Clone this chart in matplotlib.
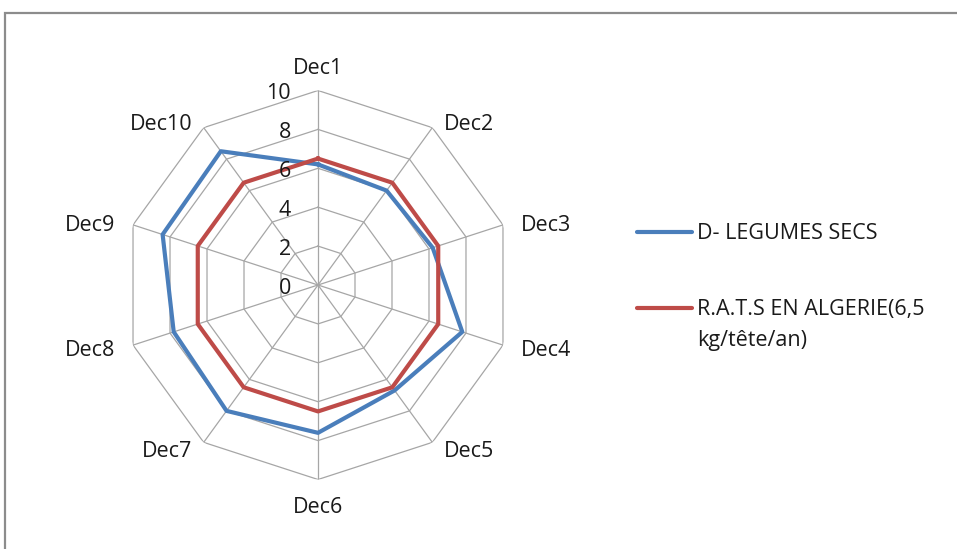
import numpy as np
import matplotlib
matplotlib.use('Agg')
import matplotlib.pyplot as plt
from matplotlib.lines import Line2D
from matplotlib.patches import Rectangle

plt.rcParams['font.family'] = ['Open Sans', 'DejaVu Sans']

# Data
categories = ['Dec1', 'Dec2', 'Dec3', 'Dec4', 'Dec5', 'Dec6', 'Dec7', 'Dec8', 'Dec9', 'Dec10']
legumes_secs = [6.2, 6.0, 6.2, 7.8, 6.7, 7.6, 8.0, 7.8, 8.4, 8.5]
rats_algerie = [6.5, 6.5, 6.5, 6.5, 6.5, 6.5, 6.5, 6.5, 6.5, 6.5]
series_names = ['D- LEGUMES SECS', 'R.A.T.S EN ALGERIE(6,5\nkg/tête/an)']
radial_ticks = [0, 2, 4, 6, 8, 10]

blue = '#4A7EBB'
red = '#BE4B48'
grid_col = '#A6A6A6'
txt_col = '#1A1A1A'
fs = 15.5

W, H = 957, 549
fig = plt.figure(figsize=(W / 100, H / 100), dpi=100)

# outer chart frame (runs off the right and bottom edges)
fig.add_artist(Rectangle((5 / W, -0.1), 1.2, 1.1 - 13 / H, transform=fig.transFigure,
                         fill=False, edgecolor='#8C8C8C', linewidth=1.6))

cx, cy, R = 318, 285, 194.5
ax = fig.add_axes([(cx - R) / W, (H - cy - R) / H, 2 * R / W, 2 * R / H], projection='polar')
ax.set_theta_offset(np.pi / 2)
ax.set_theta_direction(-1)
ax.set_ylim(0, 10)
ax.axis('off')

n = len(categories)
angles = np.arange(n) * 2 * np.pi / n
closed = np.append(angles, angles[0])

# polygon grid and spokes
for lvl in radial_ticks[1:]:
    ax.plot(closed, [lvl] * (n + 1), color=grid_col, lw=0.9, zorder=1)
for a in angles:
    ax.plot([a, a], [0, 10], color=grid_col, lw=0.9, zorder=1)

# series
ax.plot(closed, legumes_secs + legumes_secs[:1], color=blue, lw=3, zorder=3)
ax.plot(closed, rats_algerie + rats_algerie[:1], color=red, lw=3, zorder=3)

# radial tick labels
for v in radial_ticks:
    ax.annotate(str(v), xy=(0, v), xytext=(-27, -3), textcoords='offset pixels',
                ha='right', va='center', fontsize=fs, color=txt_col)

# category labels
for a, c in zip(angles, categories):
    s, co = np.sin(a), np.cos(a)
    if abs(s) < 0.1:
        off = (0, 25 * co - 3)
        ha = 'center'
    else:
        off = (19 * s, 7 * co - 3)
        ha = 'left' if s > 0 else 'right'
    ax.annotate(c, xy=(a, 10), xytext=off, textcoords='offset pixels',
                ha=ha, va='center', fontsize=fs, color=txt_col)

# legend drawn by hand so the red key sits on the first text line
for name, col, ly in zip(series_names, [blue, red], [232, 308]):
    fig.add_artist(Line2D([637 / W, 692 / W], [1 - ly / H, 1 - ly / H], color=col, lw=3,
                          solid_capstyle='round', transform=fig.transFigure))
    fig.text(697 / W, 1 - (ly - 9) / H, name, ha='left', va='top', fontsize=fs,
             color=txt_col, linespacing=1.65)

fig.savefig('out.png', dpi=100)
